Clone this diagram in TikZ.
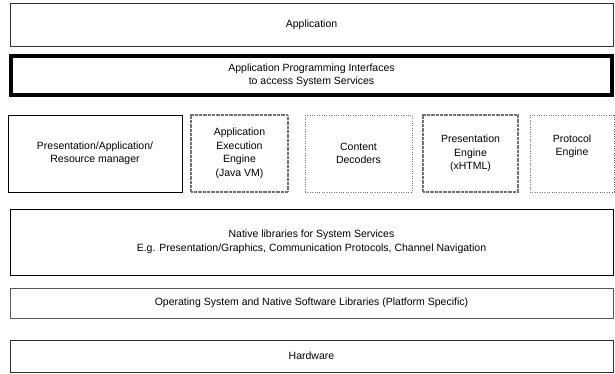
\documentclass[tikz,border=0pt]{standalone}
\usepackage{fontspec}
\setmainfont{Liberation Sans}
\begin{document}
\begin{tikzpicture}[x=1pt,y=1pt,
  font=\fontsize{10.5}{13.5}\selectfont,
  base/.style={anchor=north west, inner sep=0pt, outer sep=0pt, align=center},
  thinbox/.style={base, draw=black!80, line width=0.7pt},
  solidbox/.style={base, draw=black, line width=1pt},
  thickbox/.style={base, draw=black, line width=3.2pt},
  texbox/.style={base, draw=black!55, line width=1.6pt, dash pattern=on 0.8pt off 0.5pt},
  dotbox/.style={base, draw=black!55, line width=0.7pt, dash pattern=on 0.8pt off 1.6pt},
  lbl/.style={inner sep=0pt, align=center}]
\useasboundingbox (0,0) rectangle (615,-373);
\node[thinbox, minimum width=603pt, minimum height=43pt] (app) at (10,-3) {Application};
\node[thickbox, minimum width=601pt, minimum height=39pt] (api) at (11,-56) {Application Programming Interfaces\\to access System Services};
\node[solidbox, minimum width=174pt, minimum height=77pt] (b1) at (8,-115) {Presentation/Application/\\Resource manager};
\node[texbox, minimum width=97pt, minimum height=77pt] (b2) at (191,-115) {Application\\Execution\\Engine\\(Java VM)};
\node[dotbox, minimum width=107pt, minimum height=77pt] (b3) at (305,-115) {Content\\Decoders};
\node[texbox, minimum width=95pt, minimum height=77pt] (b4) at (423,-115) {Presentation\\Engine\\(xHTML)};
\node[dotbox, minimum width=84pt, minimum height=77pt] (b5) at (530,-115) {};
\node[lbl] (b5t) at ([yshift=7pt]b5.center) {Protocol\\Engine};
\node[solidbox, minimum width=603pt, minimum height=66pt] (nat) at (10,-209) {Native libraries for System Services\\E.g. Presentation/Graphics, Communication Protocols, Channel Navigation};
\node[thinbox, draw=black!65, minimum width=603pt, minimum height=30pt] (os) at (10,-288) {Operating System and Native Software Libraries (Platform Specific)};
\node[thinbox, minimum width=603pt, minimum height=32pt] (hw) at (10,-340) {Hardware};
\end{tikzpicture}
\end{document}
